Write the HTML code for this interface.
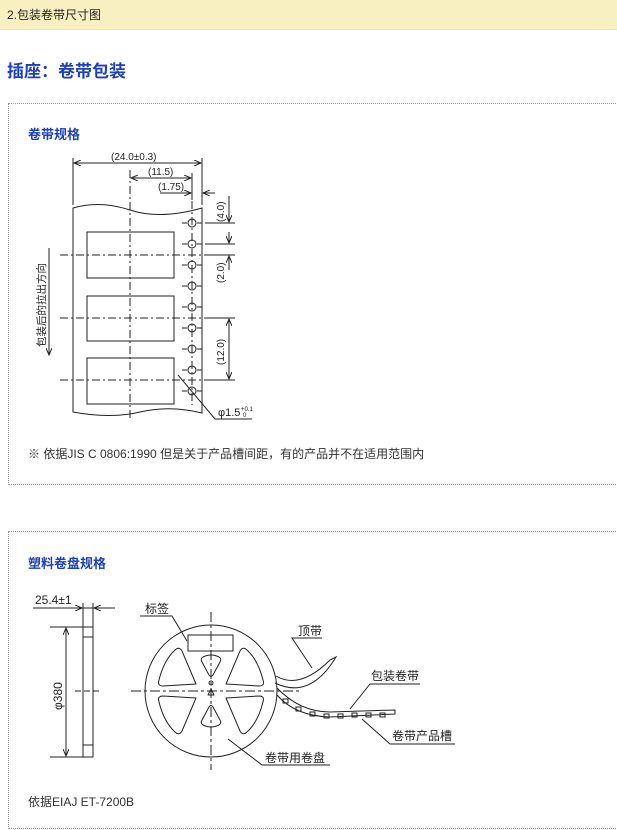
<!DOCTYPE html>
<html><head><meta charset="utf-8"><style>
body{margin:0;width:617px;height:830px;overflow:hidden;background:#fff;font-family:"Liberation Sans","Noto Sans CJK SC",sans-serif;position:relative}
.hdr{position:absolute;left:0;top:0;width:617px;height:29px;background:#f8f0c0;border-bottom:1px solid #eee2a8}
.hdr span{position:absolute;left:7px;top:6px;font-size:12px;color:#222}
.t{position:absolute;left:7px;top:57px;font-size:17px;font-weight:bold;color:#1a3fc0}
.box{position:absolute;left:8px;width:620px;border:1px dotted #999}
.st{position:absolute;left:28px;font-size:13px;font-weight:bold;color:#1a3fc0}
.n{position:absolute;left:28px;font-size:12px;color:#333}
svg{position:absolute;left:0;top:0}
</style></head><body>
<div class="hdr"><span>2.包装卷带尺寸图</span></div>
<div class="t">插座：卷带包装</div>
<div class="box" style="top:103px;height:380px"></div>
<div class="box" style="top:531px;height:296px"></div>
<div class="st" style="top:124px">卷带规格</div>
<div class="n" style="top:445px">※ 依据JIS C 0806:1990 但是关于产品槽间距，有的产品并不在适用范围内</div>
<div class="st" style="top:553px">塑料卷盘规格</div>
<div class="n" style="top:793px">依据EIAJ ET-7200B</div>
<svg width="617" height="830" font-family="Liberation Sans,Noto Sans CJK SC,sans-serif" fill="none" stroke="#222" stroke-width="1">
<defs><marker id="a" markerWidth="8" markerHeight="6" refX="7" refY="3" orient="auto-start-reverse"><path d="M0,0L7,3L0,6" fill="none" stroke="#222"/></marker></defs>
<path d="M73,208 Q100,200 130,210 T202,208 L202,413 Q170,405 140,412 T73,412 Z"/>
<path d="M130,170 V420" stroke-dasharray="8,3,2,3"/>
<path d="M192,185 V405" stroke-dasharray="8,3,2,3"/>
<g stroke-dasharray="8,3,2,3"><path d="M60,255H212M60,318H212M60,380H212"/></g>
<rect x="87" y="232" width="87" height="46"/><rect x="87" y="296" width="87" height="45"/><rect x="87" y="358" width="87" height="46"/>
<g>
<circle cx="192" cy="223" r="4"/><circle cx="192" cy="244" r="4"/><circle cx="192" cy="265" r="4"/><circle cx="192" cy="286" r="4"/><circle cx="192" cy="307" r="4"/><circle cx="192" cy="328" r="4"/><circle cx="192" cy="349" r="4"/><circle cx="192" cy="370" r="4"/><circle cx="192" cy="391" r="4"/>
<path d="M182,223h5m10,0h5M182,244h5m10,0h5M182,265h5m10,0h5M182,286h5m10,0h5M182,307h5m10,0h5M182,328h5m10,0h5M182,349h5m10,0h5M182,370h5m10,0h5M182,391h5m10,0h5"/>
</g>
<path d="M73,205V158M202,205V158M192,200V173"/>
<path d="M74,163H201" marker-start="url(#a)" marker-end="url(#a)"/>
<path d="M131,178H191" marker-start="url(#a)" marker-end="url(#a)"/>
<path d="M160,193H191" marker-end="url(#a)"/><path d="M215,193H203" marker-end="url(#a)"/>
<path d="M205,223H235M205,244H235M205,255H235M205,318H235M205,380H235"/>
<path d="M229,196V222" marker-end="url(#a)"/><path d="M229,270V256" marker-end="url(#a)"/><path d="M229,232V243" marker-end="url(#a)"/>
<path d="M229,319V379" marker-start="url(#a)" marker-end="url(#a)"/>
<path d="M49,248V355" marker-end="url(#a)"/>
<path d="M178,375L215,419H252"/>
<g fill="#222" stroke="none" font-size="10">
<text x="111" y="160">(24.0±0.3)</text><text x="148" y="175">(11.5)</text><text x="158" y="190">(1.75)</text>
<text transform="translate(224,222) rotate(-90)">(4.0)</text>
<text transform="translate(224,283) rotate(-90)">(2.0)</text>
<text transform="translate(224,365) rotate(-90)">(12.0)</text>
<text transform="translate(45,347) rotate(-90)" font-size="10.5">包装后的拉出方向</text>
<text x="218" y="416" font-size="11">φ1.5</text><text x="241" y="411" font-size="6">+0.1</text><text x="243" y="417" font-size="6">0</text>
</g>
<path d="M33,608H115M83,603V627M93,603V627"/>
<path d="M77,608H82" marker-end="url(#a)"/><path d="M100,608H94" marker-end="url(#a)"/>
<rect x="83" y="627" width="10" height="130"/><path d="M83,637H93M83,745H93"/>
<path d="M50,627H83M50,757H83"/>
<path d="M66,628V756" marker-start="url(#a)" marker-end="url(#a)"/>
<path d="M75,691H102" stroke-dasharray="6,3"/>
<circle cx="211" cy="691" r="66"/>
<path d="M131,691H300M211,612V770" stroke-dasharray="10,3,3,3"/>
<rect x="188" y="635" width="45" height="16"/>
<g stroke-linejoin="round">
<path id="wb" d="M226,684 L259,686 Q265,686 263,680 Q258,660 247,650 Q243,646 240,651 Z"/>
<use href="#wb" transform="translate(422,0) scale(-1,1)"/>
<use href="#wb" transform="translate(0,1382) scale(1,-1)"/>
<use href="#wb" transform="translate(422,1382) scale(-1,-1)"/>
<path id="ws" d="M203,657 Q211,653 219,657 Q222,659 220,662 L213,675 Q211,678 209,675 L202,662 Q200,659 203,657 Z"/>
<use href="#ws" transform="translate(0,1382) scale(1,-1)"/>
<circle cx="211" cy="683" r="2"/><path d="M208,695L211,689L214,695Z"/>
</g>
<path d="M276,676 Q300,690 330,660 L336,657 Q310,700 275,683"/>
<path d="M277,688 Q300,712 330,712 L395,710 L395,714 L330,717 Q295,716 277,695"/>
<g fill="none"><rect x="283" y="699" width="5" height="4"/><rect x="296" y="707" width="5" height="4"/><rect x="310" y="712" width="5" height="4"/><rect x="324" y="714" width="5" height="4"/><rect x="338" y="714" width="5" height="4"/><rect x="352" y="713" width="5" height="4"/><rect x="366" y="713" width="5" height="4"/><rect x="380" y="713" width="5" height="4"/></g>
<path d="M140,616H172L187,641"/>
<path d="M322,638H292L312,668"/>
<path d="M420,684H370L350,709"/>
<path d="M455,744H390L362,719"/>
<path d="M330,765H262L228,739"/>
<g fill="#222" stroke="none" font-size="12">
<text x="35" y="604">25.4±1</text>
<text transform="translate(62,710) rotate(-90)">φ380</text>
<text x="145" y="613">标签</text><text x="298" y="635">顶带</text><text x="371" y="680">包装卷带</text><text x="392" y="740">卷带产品槽</text><text x="265" y="762">卷带用卷盘</text>
</g>
</svg>
</body></html>
